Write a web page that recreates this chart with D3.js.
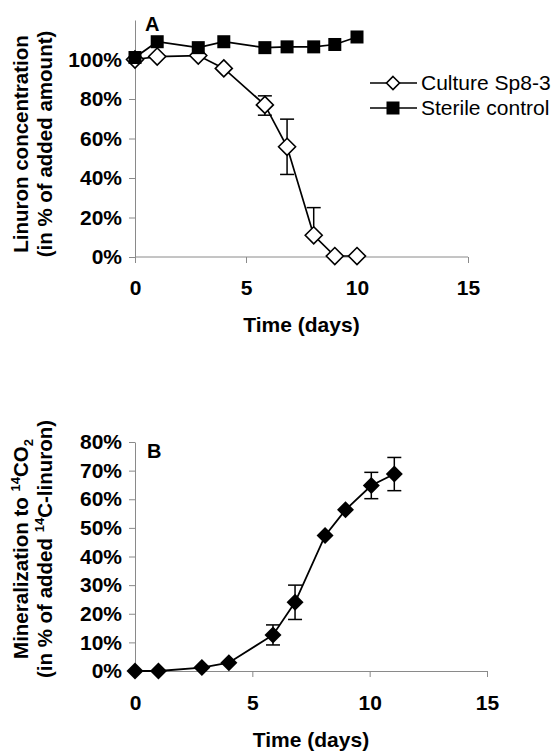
<!DOCTYPE html>
<html>
<head>
<meta charset="utf-8">
<script src="https://cdnjs.cloudflare.com/ajax/libs/d3/7.8.5/d3.min.js"></script>
<style>
  body { margin: 0; background: #fff; }
  text { font-family: "Liberation Sans", Arial, sans-serif; }
</style>
</head>
<body>
<div class="chart"></div>
<script>
// panel A: linuron concentration
const daysA = [0, 1, 2.85, 4, 5.85, 6.85, 8.05, 9, 10];
const culture = [100, 101.5, 102, 95.5, 77, 55.8, 11, 0.5, 0.5];
const cultureErrUp = [0, 0, 0, 0, 4.6, 14, 14, 0, 0];
const cultureErrDown = [0, 0, 0, 0, 5.2, 14, 0, 0, 0];
const sterile = [101, 109, 106, 109, 106, 106.4, 106.4, 107.6, 111.4];

// panel B: mineralization
const daysB = [0, 1, 2.85, 4, 5.88, 6.82, 8.1, 8.97, 10.07, 11.05];
const mineral = [0, 0, 1.2, 2.9, 12.6, 24, 47.3, 56.3, 64.8, 68.8];
const mineralErr = [0, 0, 0, 0, 3.5, 6, 0, 0, 4.6, 5.8];

const ticksX = [0, 5, 10, 15];
const ticksA = [0, 20, 40, 60, 80, 100];
const ticksB = [0, 10, 20, 30, 40, 50, 60, 70, 80];

const width = 556, height = 751;
const svg = d3.select('.chart').append('svg')
  .attr('width', width).attr('height', height);

const axisColor = '#8a8a8a';

function styleAxis(g) {
  g.selectAll('path, line').attr('stroke', axisColor).attr('stroke-width', 1);
  g.selectAll('text').attr('fill', '#000').attr('font-size', 21).attr('font-weight', 'bold');
}

const diamond = r => `M0,${-r}L${r},0L0,${r}L${-r},0Z`;

// ---------- panel A ----------
const xA = d3.scaleLinear().domain([0, 15]).range([135, 468]);
const yA = d3.scaleLinear().domain([0, 120]).range([257, 20]);

const gA = svg.append('g');
gA.append('g').attr('transform', 'translate(0,257)')
  .call(d3.axisBottom(xA).tickValues(ticksX).tickSizeOuter(0).tickPadding(17))
  .call(g => g.select('.domain').remove())
  .call(styleAxis);
gA.append('line').attr('x1', 135).attr('x2', 468).attr('y1', 257).attr('y2', 257)
  .attr('stroke', axisColor);
gA.append('g').attr('transform', 'translate(135,0)')
  .call(d3.axisLeft(yA).tickValues(ticksA).tickFormat(d => d + '%').tickSizeOuter(0).tickPadding(7))
  .call(styleAxis);

const lineA = d3.line().x((d, i) => xA(daysA[i])).y(d => yA(d));

// error bars culture
daysA.forEach((d, i) => {
  const x = xA(d);
  if (cultureErrUp[i] > 0) {
    gA.append('line').attr('x1', x).attr('x2', x)
      .attr('y1', yA(culture[i])).attr('y2', yA(culture[i] + cultureErrUp[i]))
      .attr('stroke', '#000').attr('stroke-width', 1.5);
    gA.append('line').attr('x1', x - 7).attr('x2', x + 7)
      .attr('y1', yA(culture[i] + cultureErrUp[i])).attr('y2', yA(culture[i] + cultureErrUp[i]))
      .attr('stroke', '#000').attr('stroke-width', 1.5);
  }
  if (cultureErrDown[i] > 0) {
    gA.append('line').attr('x1', x).attr('x2', x)
      .attr('y1', yA(culture[i])).attr('y2', yA(culture[i] - cultureErrDown[i]))
      .attr('stroke', '#000').attr('stroke-width', 1.5);
    gA.append('line').attr('x1', x - 7).attr('x2', x + 7)
      .attr('y1', yA(culture[i] - cultureErrDown[i])).attr('y2', yA(culture[i] - cultureErrDown[i]))
      .attr('stroke', '#000').attr('stroke-width', 1.5);
  }
});

gA.append('path').datum(culture).attr('d', lineA)
  .attr('fill', 'none').attr('stroke', '#000').attr('stroke-width', 1.7);
gA.selectAll('path.dia').data(culture).enter().append('path')
  .attr('d', diamond(8.5))
  .attr('transform', (d, i) => `translate(${xA(daysA[i])},${yA(d)})`)
  .attr('fill', '#fff').attr('stroke', '#000').attr('stroke-width', 1.6);

gA.append('path').datum(sterile).attr('d', lineA)
  .attr('fill', 'none').attr('stroke', '#000').attr('stroke-width', 1.7);
gA.selectAll('rect.sq').data(sterile).enter().append('rect')
  .attr('x', (d, i) => xA(daysA[i]) - 6.5).attr('y', d => yA(d) - 6.5)
  .attr('width', 13).attr('height', 13).attr('fill', '#000');

gA.append('text').attr('x', 145).attr('y', 31).text('A')
  .attr('font-size', 20).attr('font-weight', 'bold');

gA.append('text').attr('x', 301.5).attr('y', 332).attr('text-anchor', 'middle')
  .attr('font-size', 21).attr('font-weight', 'bold').text('Time (days)');

const labA = gA.append('text').attr('transform', 'translate(28,144) rotate(-90)')
  .attr('text-anchor', 'middle').attr('font-size', 20.5).attr('font-weight', 'bold');
labA.append('tspan').attr('x', 0).attr('y', 0).text('Linuron concentration');
labA.append('tspan').attr('x', 0).attr('y', 24).text('(in % of added amount)');

// legend
const legend = [
  { name: 'Culture Sp8-3', y: 83, mark: 'diamond' },
  { name: 'Sterile control', y: 108, mark: 'square' }
];
legend.forEach(l => {
  gA.append('line').attr('x1', 370).attr('x2', 417).attr('y1', l.y).attr('y2', l.y)
    .attr('stroke', '#000').attr('stroke-width', 1.6);
  if (l.mark === 'diamond') {
    gA.append('path').attr('d', diamond(6.5)).attr('transform', `translate(393,${l.y})`)
      .attr('fill', '#fff').attr('stroke', '#000').attr('stroke-width', 1.6);
  } else {
    gA.append('rect').attr('x', 393 - 6.5).attr('y', l.y - 6.5)
      .attr('width', 13).attr('height', 13).attr('fill', '#000');
  }
  gA.append('text').attr('x', 421).attr('y', l.y).attr('dy', '0.35em')
    .attr('font-size', 21).text(l.name);
});

// ---------- panel B ----------
const xB = d3.scaleLinear().domain([0, 15]).range([135, 487]);
const yB = d3.scaleLinear().domain([0, 80]).range([671, 442]);

const gB = svg.append('g');
gB.append('g').attr('transform', 'translate(0,671)')
  .call(d3.axisBottom(xB).tickValues(ticksX).tickSizeOuter(0).tickPadding(18))
  .call(styleAxis);
gB.append('g').attr('transform', 'translate(135,0)')
  .call(d3.axisLeft(yB).tickValues(ticksB).tickFormat(d => d + '%').tickSizeOuter(0).tickPadding(7))
  .call(styleAxis);

daysB.forEach((d, i) => {
  if (mineralErr[i] <= 0) return;
  const x = xB(d);
  const top = yB(mineral[i] + mineralErr[i]), bot = yB(mineral[i] - mineralErr[i]);
  gB.append('line').attr('x1', x).attr('x2', x).attr('y1', top).attr('y2', bot)
    .attr('stroke', '#000').attr('stroke-width', 1.5);
  [top, bot].forEach(yy => gB.append('line').attr('x1', x - 7).attr('x2', x + 7)
    .attr('y1', yy).attr('y2', yy).attr('stroke', '#000').attr('stroke-width', 1.5));
});

const lineB = d3.line().x((d, i) => xB(daysB[i])).y(d => yB(d));
gB.append('path').datum(mineral).attr('d', lineB)
  .attr('fill', 'none').attr('stroke', '#000').attr('stroke-width', 1.8);

gB.selectAll('path.dia').data(mineral).enter().append('path')
  .attr('d', diamond(8.5))
  .attr('transform', (d, i) => `translate(${xB(daysB[i])},${yB(d)})`)
  .attr('fill', '#000');

gB.append('text').attr('x', 147).attr('y', 458).text('B')
  .attr('font-size', 20).attr('font-weight', 'bold');

gB.append('text').attr('x', 311).attr('y', 747).attr('text-anchor', 'middle')
  .attr('font-size', 21).attr('font-weight', 'bold').text('Time (days)');

const labB = gB.append('text').attr('transform', 'translate(28,549) rotate(-90)')
  .attr('text-anchor', 'middle').attr('font-size', 20.5).attr('font-weight', 'bold');
const l1 = labB.append('tspan').attr('x', 0).attr('y', 0);
l1.append('tspan').text('Mineralization to ');
l1.append('tspan').attr('font-size', 13).attr('dy', -8).text('14');
l1.append('tspan').attr('dy', 8).text('CO');
l1.append('tspan').attr('font-size', 13).attr('dy', 5).text('2');
const l2 = labB.append('tspan').attr('x', 0).attr('y', 24);
l2.append('tspan').text('(in % of added ');
l2.append('tspan').attr('font-size', 13).attr('dy', -8).text('14');
l2.append('tspan').attr('dy', 8).text('C-linuron)');
</script>
</body>
</html>
